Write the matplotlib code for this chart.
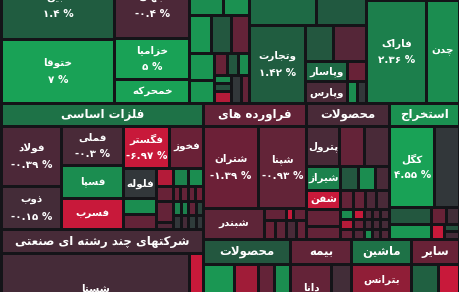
import numpy as np
import matplotlib.pyplot as plt
from matplotlib.patches import Rectangle

# tile = (size, change %, symbol); group = ('h' or 'v', size, [tiles])
# sizes are the relative market value of a box inside its parent box

col_a = [(67.5, 1.4, 'مبین'), (63.5, 7, 'ختوقا')]
col_b = [(66.5, -0.4, 'جهان'), (41, 5, 'خزامیا'), (23.5, 4, 'خمحرکه')]
col_c = [
    ('h', 43, [(33.5, 3, ''), (26.5, 3.2, '')]),
    ('h', 38.5, [(21.5, 3.5, ''), (20, 1.2, ''), (18.5, -1, '')]),
    ('h', 49.5, [
        ('v', 24.5, [(26.5, 3.5, ''), (23, 3.5, '')]),
        ('v', 35.5, [
            ('h', 21.5, [(13, -1.2, ''), (11, 1.2, ''), (11.5, 3, '')]),
            ('h', 28, [('v', 17, [(8, 3, ''), (8, 1, ''), (12, -3, '')]),
                       (10, 0, ''), (8.5, -1, '')]),
        ]),
    ]),
]
col_d = [
    ('h', 53, [(66.5, 1.8, ''), (50.5, 1.3, '')]),
    ('h', 78, [(55.5, 1.42, 'وتجارت'),
               ('v', 61.5, [('h', 36.5, [(28.5, 1.2, ''), (33, -0.6, '')]),
                            ('h', 20, [(42, 1.8, 'وپاسار'), (19.5, -1.2, '')]),
                            ('h', 21.5, [(42, -0.3, 'وپارس'), (10, 3, ''), (9.5, 0, '')])])]),
]
col_e = [(28, None, ''), (103, 2.36, 'فاراک')]
col_f = [(28, None, ''), (103, 3, 'چدن')]

metals = [
    ('v', 60, [(60.5, -0.39, 'فولاد'), (43, -0.15, 'ذوب')]),
    ('v', 62, [(39, -0.3, 'فملی'), (33.5, 3, 'فسپا'), (31, -4, 'فسرب')]),
    ('v', 80, [
        ('h', 42.5, [(46, -6.97, 'فگستر'), (34, -1.3, 'فخوز')]),
        ('h', 61, [
            ('v', 33, [(30, 0, 'فلوله'), (15.5, 3, ''), (15.5, -1, '')]),
            ('v', 47, [
                ('h', 18, [(17, -3, ''), (15, 2.5, ''), (15, 3, '')]),
                ('h', 14.5, [(17, -1.2, ''), (7.5, -1.2, ''), (7.5, -1, ''),
                             (7.5, -1, ''), (7.5, -1.5, '')]),
                ('h', 28.5, [('v', 17, [(21, -1, ''), (7.5, -0.5, '')]),
                             ('v', 30, [('h', 14, [(8, 2.5, ''), (7, 2.5, ''), (8, -1, ''), (7, 0.5, '')]),
                                        ('h', 14.5, [(8, 0, ''), (7, -0.2, ''), (8, 0.2, ''), (7, 0, '')])])]),
            ]),
        ]),
    ]),
]
conglo = [(188, -0.2, 'شستا'), (14, -4, '')]

refinery = [
    ('h', 82.5, [(55, -1.39, 'شتران'), (48, -0.93, 'شپنا')]),
    ('h', 30.5, [(61, -0.8, 'شبندر'),
                 ('v', 42, [('h', 11.5, [(22, -1, ''), (7, -4, ''), (13, -1, '')]),
                            ('h', 19, [(11, -1.2, ''), (11, -0.8, ''), (10, -0.3, ''), (10, -1, '')])])]),
]
chem = [
    ('h', 40.5, [(33, -0.3, 'پترول'), (25, -1, ''), (25, -0.3, '')]),
    ('h', 23.5, [(34.5, 2.5, 'شیراز'), (17.5, 1.2, ''), (17, 3, ''), (14, -0.3, '')]),
    ('h', 19.5, [(34.5, -4, 'شفن'), (13, -1, ''), (12, -1, ''), (11, -0.4, ''), (12.5, -0.3, '')]),
    ('h', 29.5, [('v', 34.5, [(16.5, -1, ''), (13, -1, '')]),
                 ('v', 48.5, [('h', 10, [(13, 3, ''), (11, -4, ''), (8, -0.5, ''), (8, -0.5, ''), (8.5, -0.3, '')]),
                              ('h', 9.5, [(13, -3, ''), (11, -1, ''), (8, -0.3, ''), (8, -0.3, ''), (8.5, -0.2, '')]),
                              ('h', 10, [(13, -1, ''), (11, -0.5, ''), (8, 3, ''), (8, -0.3, ''), (8.5, -0.5, '')])])]),
]
mining = [
    ('h', 81, [(45.5, 4.55, 'کگل'), (24.5, 0, '')]),
    ('h', 17, [(42, 1.2, ''), (15, -1.2, ''), (13, -0.1, '')]),
    ('h', 15, [(42, 3.5, ''), (13, -4, ''), ('v', 15, [(7, 1, ''), (8, -0.2, '')])]),
]
products = [(31, 3.5, ''), (24, -2.5, ''), (16.5, -1, ''), (15.5, 3, '')]
insurance = [(41, -1, 'دانا'), (20, -0.1, '')]
machinery = [(60, -2.1, 'بترانس')]
other = [(27, 1.5, ''), (21, -4, '')]

# sector headers: name, change % (header colour)
sector_names = ['فلزات اساسی', 'شرکتهای چند رشته ای صنعتی', 'فراورده های',
                'محصولات', 'استخراج', 'محصولات', 'بیمه', 'ماشین', 'سایر']
sector_change = [2.0, -0.25, -1.0, -0.3, 3.2, 1.2, -0.9, 2.0, -1.2]

# colour scale, change % -> rgb
scale_chg = [-3.5, -2, -1.4, -0.9, -0.4, -0.1, 0, 1.4, 2.4, 4]
scale_r = [200, 140, 108, 98, 76, 66, 50, 32, 28, 25]
scale_g = [25, 30, 32, 36, 40, 45, 55, 92, 128, 162]
scale_b = [58, 55, 55, 56, 56, 56, 58, 64, 76, 86]

BG = '#141418'
GAP = 1.5

FORMS = {
    'ا': ('\uFE8D', '\uFE8E', None, None), 'آ': ('\uFE81', '\uFE82', None, None),
    'ب': ('\uFE8F', '\uFE90', '\uFE91', '\uFE92'), 'پ': ('\uFB56', '\uFB57', '\uFB58', '\uFB59'),
    'ت': ('\uFE95', '\uFE96', '\uFE97', '\uFE98'), 'ج': ('\uFE9D', '\uFE9E', '\uFE9F', '\uFEA0'),
    'چ': ('\uFB7A', '\uFB7B', '\uFB7C', '\uFB7D'), 'ح': ('\uFEA1', '\uFEA2', '\uFEA3', '\uFEA4'),
    'خ': ('\uFEA5', '\uFEA6', '\uFEA7', '\uFEA8'), 'د': ('\uFEA9', '\uFEAA', None, None),
    'ذ': ('\uFEAB', '\uFEAC', None, None), 'ر': ('\uFEAD', '\uFEAE', None, None),
    'ز': ('\uFEAF', '\uFEB0', None, None), 'س': ('\uFEB1', '\uFEB2', '\uFEB3', '\uFEB4'),
    'ش': ('\uFEB5', '\uFEB6', '\uFEB7', '\uFEB8'), 'ص': ('\uFEB9', '\uFEBA', '\uFEBB', '\uFEBC'),
    'ع': ('\uFEC9', '\uFECA', '\uFECB', '\uFECC'), 'ف': ('\uFED1', '\uFED2', '\uFED3', '\uFED4'),
    'ق': ('\uFED5', '\uFED6', '\uFED7', '\uFED8'), 'ک': ('\uFB8E', '\uFB8F', '\uFB90', '\uFB91'),
    'گ': ('\uFB92', '\uFB93', '\uFB94', '\uFB95'), 'ل': ('\uFEDD', '\uFEDE', '\uFEDF', '\uFEE0'),
    'م': ('\uFEE1', '\uFEE2', '\uFEE3', '\uFEE4'), 'ن': ('\uFEE5', '\uFEE6', '\uFEE7', '\uFEE8'),
    'و': ('\uFEED', '\uFEEE', None, None), 'ه': ('\uFEE9', '\uFEEA', '\uFEEB', '\uFEEC'),
    'ی': ('\uFBFC', '\uFBFD', '\uFBFE', '\uFBFF'),
}


# matplotlib has no arabic shaping, so pick presentation forms by hand and reverse
def farsi(text):
    out = []
    i = 0
    while i < len(text):
        c = text[i]
        prev = text[i - 1] if i > 0 else ''
        nxt = text[i + 1] if i + 1 < len(text) else ''
        joins_prev = prev in FORMS and FORMS[prev][2] is not None
        if c == 'ل' and nxt == 'ا':
            out.append('\uFEFC' if joins_prev else '\uFEFB')
            i += 2
            continue
        if c not in FORMS:
            out.append(c)
            i += 1
            continue
        iso, fin, ini, med = FORMS[c]
        joins_next = nxt in FORMS and ini is not None
        if joins_prev and joins_next:
            out.append(med)
        elif joins_prev:
            out.append(fin)
        elif joins_next:
            out.append(ini)
        else:
            out.append(iso)
        i += 1
    return ''.join(reversed(out))


def pct(v):
    s = ('%.2f' % v).rstrip('0').rstrip('.')
    return s.translate(str.maketrans('0123456789', '۰۱۲۳۴۵۶۷۸۹')) + ' %'


def colour(v):
    return (np.interp(v, scale_chg, scale_r) / 255,
            np.interp(v, scale_chg, scale_g) / 255,
            np.interp(v, scale_chg, scale_b) / 255)


def draw(ax, node, x0, y0, x1, y1):
    if isinstance(node[0], str):
        kind, _, kids = node
        total = sum(k[1] if isinstance(k[0], str) else k[0] for k in kids)
        pos = x0 if kind == 'h' else y0
        span = (x1 - x0) if kind == 'h' else (y1 - y0)
        for k in kids:
            w = k[1] if isinstance(k[0], str) else k[0]
            step = span * w / total
            if kind == 'h':
                draw(ax, k, pos, y0, pos + step, y1)
            else:
                draw(ax, k, x0, pos, x1, pos + step)
            pos += step
        return
    chg, name = node[1], node[2]
    if chg is None:
        return
    head = len(node) > 3
    bx0, by0, bx1, by1 = x0 + GAP, y0 + GAP, x1 - GAP, y1 - GAP
    ax.add_patch(Rectangle((bx0, by0), bx1 - bx0, by1 - by0, facecolor=colour(chg),
                           edgecolor='none'))
    if not name:
        return
    cx, cy = (bx0 + bx1) / 2, (by0 + by1) / 2
    fs = 8.5 if head else 7.5
    if not head and bx1 - bx0 >= 40 and by1 - by0 >= 34:
        ax.text(cx, cy - 8, farsi(name), color='white', fontsize=fs, ha='center',
                va='center', fontweight='bold')
        ax.text(cx, cy + 8.5, pct(chg), color='white', fontsize=fs, ha='center',
                va='center', fontweight='bold')
    else:
        ax.text(cx, cy, farsi(name), color='white', fontsize=fs, ha='center',
                va='center', fontweight='bold')


def sector(i, size, body_kind, body_size, body, head_h=23):
    return ('v', size, [(head_h, sector_change[i], sector_names[i], 'head'),
                        (body_kind, body_size, body)])


def main():
    top = ('h', 131, [('v', 113, col_a), ('v', 75.5, col_b), ('v', 60, col_c),
                      ('v', 117, col_d), ('v', 59.5, col_e), ('v', 33, col_f)])
    left = ('v', 202, [sector(0, 126.5, 'h', 103.5, metals),
                       sector(1, 110.5, 'h', 86.5, conglo, 24)])
    upper = ('h', 136, [sector(2, 103, 'v', 113, refinery),
                        sector(3, 83, 'v', 113, chem),
                        sector(4, 70, 'v', 113, mining)])
    lower = ('h', 73, [sector(5, 87, 'h', 48, products, 25),
                       sector(6, 61, 'h', 48, insurance, 25),
                       sector(7, 60, 'h', 48, machinery, 25),
                       sector(8, 48, 'h', 48, other, 25)])
    right = ('v', 256, [upper, lower, (28, None, '')])
    root = ('v', 1, [top, ('h', 237, [left, right])])

    fig = plt.figure(figsize=(4.6, 2.92), dpi=100)
    fig.patch.set_facecolor(BG)
    ax = fig.add_axes([0, 0, 1, 1])
    ax.set_facecolor(BG)
    ax.set_xlim(0, 460)
    ax.set_ylim(292, 0)
    ax.axis('off')
    draw(ax, root, 1.5, -28, 459.5, 340)
    fig.savefig('out.png', dpi=100, facecolor=BG)


main()
